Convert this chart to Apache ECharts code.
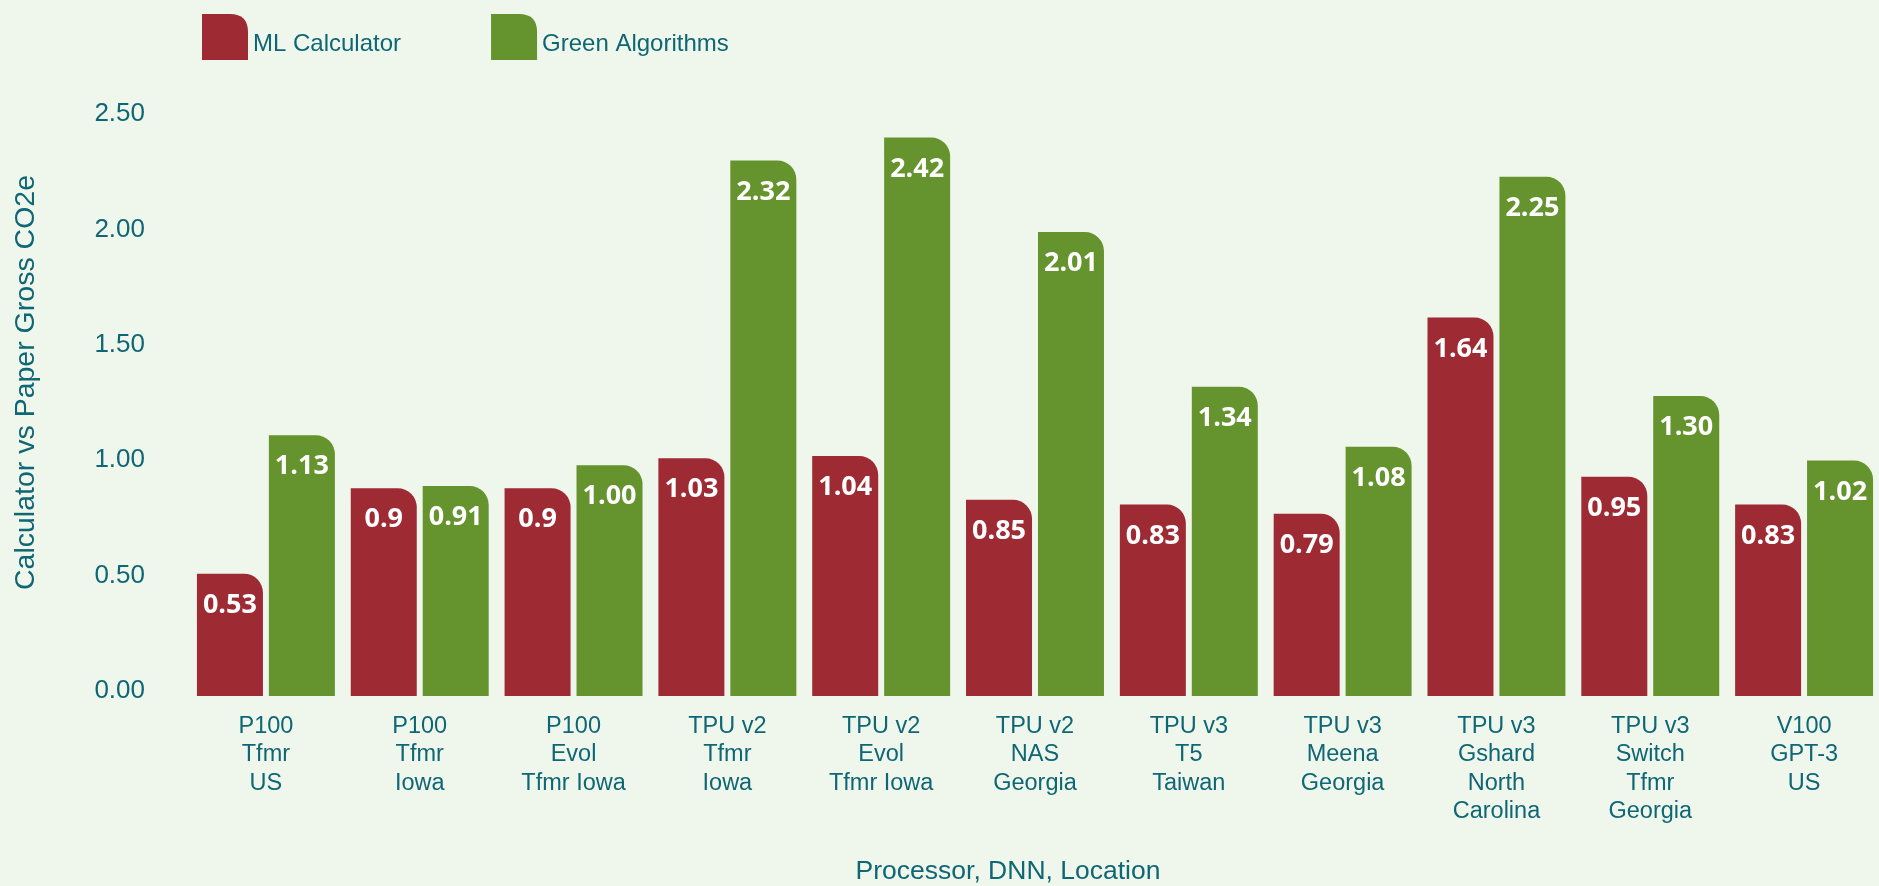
<!DOCTYPE html>
<html>
<head>
<meta charset="utf-8">
<script src="https://cdn.jsdelivr.net/npm/echarts@6/dist/echarts.min.js"></script>
<style>
html,body{margin:0;padding:0;background:#eff7ec;}
#chart{width:1879px;height:886px;}
</style>
</head>
<body>
<div id="chart"></div>
<script>
const categories = [
  "P100\nTfmr\nUS",
  "P100\nTfmr\nIowa",
  "P100\nEvol\nTfmr Iowa",
  "TPU v2\nTfmr\nIowa",
  "TPU v2\nEvol\nTfmr Iowa",
  "TPU v2\nNAS\nGeorgia",
  "TPU v3\nT5\nTaiwan",
  "TPU v3\nMeena\nGeorgia",
  "TPU v3\nGshard\nNorth\nCarolina",
  "TPU v3\nSwitch\nTfmr\nGeorgia",
  "V100\nGPT-3\nUS"
];
const mlCalculator = [0.53, 0.9, 0.9, 1.03, 1.04, 0.85, 0.83, 0.79, 1.64, 0.95, 0.83];
const mlCalculatorLabels = ["0.53", "0.9", "0.9", "1.03", "1.04", "0.85", "0.83", "0.79", "1.64", "0.95", "0.83"];
const greenAlgorithms = [1.13, 0.91, 1.00, 2.32, 2.42, 2.01, 1.34, 1.08, 2.25, 1.30, 1.02];
const yTicks = [0, 0.5, 1.0, 1.5, 2.0, 2.5];

const TEXT = '#0f6674';
const RED = '#9e2b33';
const GREEN = '#65932e';
const FONT = '"Liberation Sans", Arial, sans-serif';
const iconPath = 'path://M0,0 L28,0 Q46,0 46,18 L46,46 L0,46 Z';

const chart = echarts.init(document.getElementById('chart'), null, {renderer: 'canvas'});
const labelCommon = {
  show: true,
  position: 'insideTop',
  distance: 18,
  color: '#ffffff',
  fontFamily: '"Open Sans", Lato, sans-serif',
  fontWeight: 700,
  fontSize: 27
};
chart.setOption({
  backgroundColor: '#eff7ec',
  animation: false,
  textStyle: {fontFamily: FONT},
  legend: {
    left: 197,
    top: 9,
    itemWidth: 46,
    itemHeight: 46,
    itemGap: 90,
    icon: iconPath,
    formatter: name => '{t|' + name + '}',
    textStyle: {
      color: TEXT, fontSize: 24, fontFamily: FONT,
      rich: {t: {color: TEXT, fontSize: 24, fontFamily: FONT, padding: [15, 0, 0, 0]}}
    },
    data: [
      {name: 'ML Calculator', icon: iconPath},
      {name: 'Green Algorithms', icon: iconPath}
    ]
  },
  grid: {left: 189, top: 119, width: 1692, height: 577, containLabel: false, outerBoundsMode: 'none'},
  xAxis: {
    type: 'category',
    data: categories,
    axisLine: {show: false},
    axisTick: {show: false},
    axisLabel: {
      color: TEXT, fontSize: 23.5, lineHeight: 28.5, margin: 16,
      fontFamily: FONT, interval: 0
    },
    name: 'Processor, DNN, Location',
    nameLocation: 'middle',
    nameGap: 162,
    nameTextStyle: {color: TEXT, fontSize: 26.5, fontFamily: FONT, padding: [0, 54, 0, 0]}
  },
  yAxis: {
    type: 'value',
    min: yTicks[0],
    max: yTicks[yTicks.length - 1],
    interval: 0.5,
    splitLine: {show: false},
    axisLine: {show: false},
    axisTick: {show: false},
    axisLabel: {
      color: TEXT, fontSize: 26, margin: 44, fontFamily: FONT,
      verticalAlign: 'bottom', lineHeight: 10,
      formatter: v => v.toFixed(2)
    },
    name: 'Calculator vs Paper Gross CO2e',
    nameLocation: 'middle',
    nameRotate: 90,
    nameGap: 148,
    nameTextStyle: {color: TEXT, fontSize: 28.5, fontFamily: FONT, padding: [0, 0, 0, 50]}
  },
  series: [
    {
      name: 'ML Calculator',
      type: 'bar',
      data: mlCalculator,
      barWidth: 66,
      barGap: '9%',
      itemStyle: {color: RED, borderRadius: [0, 19, 0, 0]},
      label: Object.assign({}, labelCommon, {formatter: p => mlCalculatorLabels[p.dataIndex]})
    },
    {
      name: 'Green Algorithms',
      type: 'bar',
      data: greenAlgorithms,
      barWidth: 66,
      barGap: '9%',
      itemStyle: {color: GREEN, borderRadius: [0, 19, 0, 0]},
      label: Object.assign({}, labelCommon, {formatter: p => p.value.toFixed(2)})
    }
  ]
});
</script>
</body>
</html>
